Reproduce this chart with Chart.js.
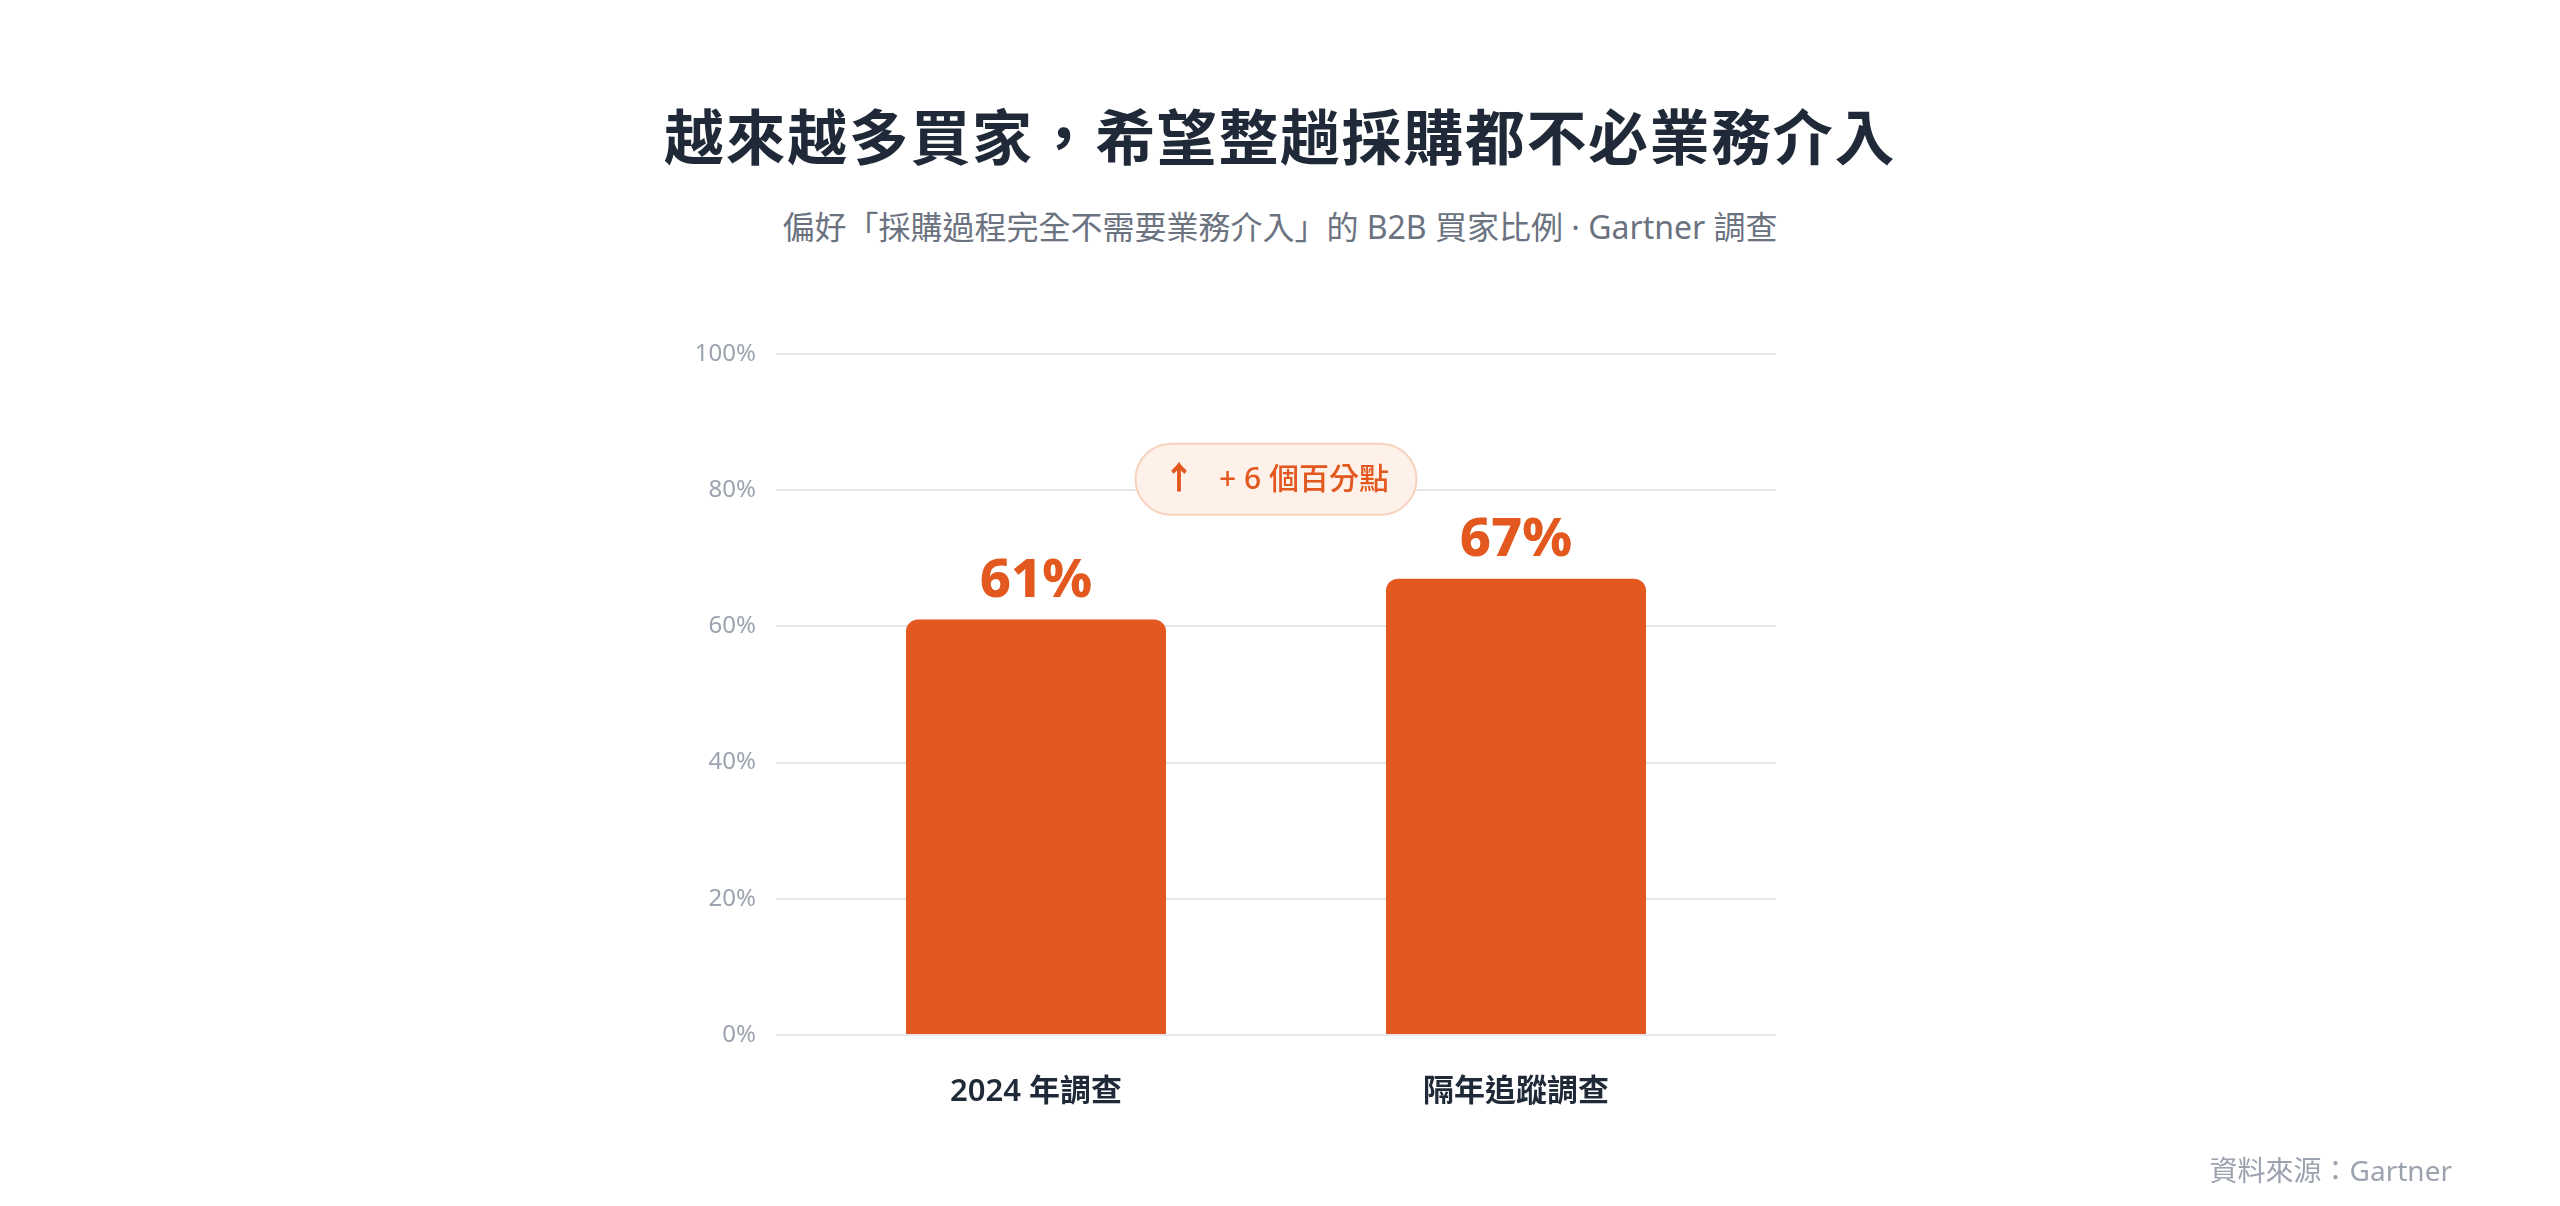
<!DOCTYPE html>
<html lang="zh-Hant">
<head>
<meta charset="utf-8">
<title>越來越多買家，希望整趟採購都不必業務介入</title>
<script src="https://cdn.jsdelivr.net/npm/chart.js@4.4.1/dist/chart.umd.min.js"></script>
<style>
  html, body { margin: 0; padding: 0; background: #ffffff; }
  body { width: 2560px; height: 1206px; position: relative; overflow: hidden;
         font-family: "Noto Sans", "Noto Sans CJK TC", sans-serif; }
  #wrap { position: absolute; left: 0; top: 0; width: 2560px; height: 1206px; }
  .title { position: absolute; left: 0; width: 2560px; top: 97px; height: 80px; line-height: 80px;
           text-align: center; font-size: 60px; font-weight: 700; color: #1f2937; letter-spacing: 1.6px; }
  .subtitle { position: absolute; left: 0; width: 2560px; top: 207px; height: 40px; line-height: 40px;
              text-align: center; font-size: 32px; font-weight: 400; color: #6b7280; }
  .source { position: absolute; right: 108px; top: 1151px; height: 38px; line-height: 38px;
            font-size: 28px; color: #9ca3af; }
</style>
</head>
<body>
<div class="title">越來越多買家，希望整趟採購都不必業務介入</div>
<div class="subtitle">偏好「採購過程完全不需要業務介入」的 B2B 買家比例 · Gartner 調查</div>
<div id="wrap"><canvas id="barChart"></canvas></div>
<div class="source">資料來源：Gartner</div>

<script>
// data
const categories = ['2024 年調查', '隔年追蹤調查'];
const values = [61, 67];
const yMin = 0;
const yMax = 100;
const yStep = 20;
const badgeText = '+ 6 個百分點';
const badgeValue = 81.6; // where the badge sits on the y scale

const orange = '#e2581f';
const gridColor = '#e5e7eb';

// value labels above bars
const valueLabels = {
  id: 'valueLabels',
  afterDatasetsDraw(chart) {
    const ctx = chart.ctx;
    const meta = chart.getDatasetMeta(0);
    ctx.save();
    ctx.fillStyle = orange;
    ctx.font = '800 54px "Noto Sans", "Noto Sans CJK TC", sans-serif';
    ctx.textAlign = 'center';
    ctx.textBaseline = 'alphabetic';
    meta.data.forEach((bar, i) => {
      ctx.fillText(values[i] + '%', bar.x, bar.y - 23);
    });
    ctx.restore();
  }
};

// the "+6" badge between the bars
const badge = {
  id: 'badge',
  afterDatasetsDraw(chart) {
    const ctx = chart.ctx;
    const area = chart.chartArea;
    const cx = (area.left + area.right) / 2;
    const cy = chart.scales.y.getPixelForValue(badgeValue);
    const w = 281, h = 71, r = h / 2;
    const x = cx - w / 2, y = cy - h / 2;
    ctx.save();
    ctx.beginPath();
    ctx.roundRect(x, y, w, h, r);
    ctx.fillStyle = '#fef1ea';
    ctx.fill();
    ctx.lineWidth = 2;
    ctx.strokeStyle = '#f6d2bd';
    ctx.stroke();

    ctx.fillStyle = orange;
    ctx.textBaseline = 'middle';
    const arrowFont = '800 32px "Noto Sans", "Noto Sans CJK TC", sans-serif';
    const textFont = '500 30px "Noto Sans", "Noto Sans CJK TC", sans-serif';
    ctx.font = arrowFont;
    const arrowW = ctx.measureText('↑').width;
    ctx.font = textFont;
    const textW = ctx.measureText(badgeText).width;
    const gap = 24;
    const sx = cx - (arrowW + gap + textW) / 2;
    ctx.textAlign = 'left';
    ctx.font = arrowFont;
    ctx.fillText('↑', sx, cy + 1);
    ctx.font = textFont;
    ctx.fillText(badgeText, sx + arrowW + gap, cy + 1);
    ctx.restore();
  }
};

const ctx = document.getElementById('barChart').getContext('2d');
const chart = new Chart(ctx, {
  type: 'bar',
  data: {
    labels: categories,
    datasets: [{
      label: '比例',
      data: values,
      backgroundColor: orange,
      borderRadius: { topLeft: 12, topRight: 12, bottomLeft: 0, bottomRight: 0 },
      borderSkipped: false,
      categoryPercentage: 1,
      barPercentage: 0.5417
    }]
  },
  options: {
    responsive: true,
    maintainAspectRatio: false,
    animation: false,
    layout: { padding: { left: 676, right: 784, top: 354, bottom: 71 } },
    plugins: {
      legend: { display: false },
      tooltip: { enabled: false },
      title: { display: false }
    },
    scales: {
      x: {
        grid: { display: false },
        border: { display: false },
        ticks: {
          color: '#1f2937',
          padding: 31,
          font: { family: '"Noto Sans", "Noto Sans CJK TC", sans-serif', size: 31, weight: '600' }
        },
        afterFit(scale) { scale.height = 100; }
      },
      y: {
        min: yMin,
        max: yMax,
        border: { display: false },
        grid: { color: gridColor, lineWidth: 2, drawTicks: true, tickLength: 20 },
        ticks: {
          stepSize: yStep,
          padding: 20,
          color: '#9ca3af',
          font: { family: '"Noto Sans", "Noto Sans CJK TC", sans-serif', size: 24 },
          callback: (v) => v + '%'
        },
        afterFit(scale) { scale.width = 120; }
      },
      y2: {
        position: 'right',
        min: yMin,
        max: yMax,
        border: { display: false },
        grid: { color: gridColor, lineWidth: 2, drawOnChartArea: false, drawTicks: true, tickLength: 20 },
        ticks: { stepSize: yStep, display: false },
        afterFit(scale) { scale.width = 20; }
      }
    }
  },
  plugins: [valueLabels, badge]
});
</script>
</body>
</html>
